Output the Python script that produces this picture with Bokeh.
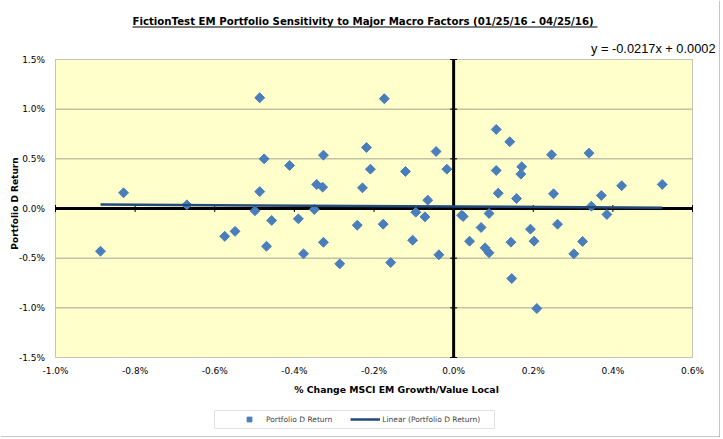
import numpy as np
from bokeh.plotting import figure
from bokeh.models import Range1d, Label, BoxAnnotation, Legend, LegendItem
from bokeh.embed import file_html
from bokeh.resources import INLINE

# ---------------- data (in percent) ----------------
x_change = [-0.887, -0.829, -0.670, -0.575, -0.549, -0.499, -0.487, -0.487, -0.476, -0.470,
            -0.457, -0.412, -0.390, -0.377, -0.350, -0.344, -0.329, -0.327, -0.327, -0.286,
            -0.242, -0.229, -0.219, -0.209, -0.177, -0.174, -0.158, -0.121, -0.103, -0.095,
            -0.072, -0.065, -0.044, -0.037, -0.017, 0.020, 0.024, 0.040, 0.069, 0.079,
            0.089, 0.089, 0.107, 0.107, 0.112, 0.141, 0.144, 0.146, 0.158, 0.169,
            0.171, 0.193, 0.202, 0.209, 0.246, 0.251, 0.261, 0.302, 0.324, 0.340,
            0.346, 0.371, 0.385, 0.422, 0.524]
d_return = [-0.430, 0.158, 0.037, -0.280, -0.230, -0.023, 0.170, 1.115, 0.500, -0.380,
            -0.120, 0.433, -0.104, -0.456, -0.010, 0.242, 0.215, 0.537, -0.340, -0.557,
            -0.168, 0.208, 0.614, 0.396, -0.158, 1.105, -0.544, 0.373, -0.319, -0.037,
            -0.084, 0.084, 0.574, -0.466, 0.396, -0.067, -0.080, -0.329, -0.191, -0.396,
            -0.446, -0.050, 0.796, 0.383, 0.154, 0.672, -0.339, -0.705, 0.100, 0.346,
            0.420, -0.208, -0.329, -1.007, 0.541, 0.148, -0.158, -0.456, -0.332, 0.557,
            0.023, 0.131, -0.060, 0.229, 0.242]
trend_slope = -0.0217
trend_intercept = 0.0002
x_ticks = [-1.0, -0.8, -0.6, -0.4, -0.2, 0.0, 0.2, 0.4, 0.6]
y_ticks = [-1.5, -1.0, -0.5, 0.0, 0.5, 1.0, 1.5]
title_text = "FictionTest EM Portfolio Sensitivity to Major Macro Factors (01/25/16 - 04/25/16)"
equation_text = "y = -0.0217x + 0.0002"
x_title = "% Change MSCI EM Growth/Value Local"
y_title = "Portfolio D Return"
series_name = "Portfolio D Return"
trend_name = "Linear (Portfolio D Return)"

# ---------------- layout (figure pixels, top-left origin) ----------------
FONT = "DejaVu Sans"
W, H = 720, 437
PL, PR, PT, PB = 55, 692, 59, 357          # plot area box

xmin, xmax = x_ticks[0], x_ticks[-1]
ymin, ymax = y_ticks[0], y_ticks[-1]
xpp = (xmax - xmin) / (PR - PL)
ypp = (ymax - ymin) / (PB - PT)

p = figure(width=W, height=H, output_backend="svg", toolbar_location=None, title=None,
           x_range=Range1d(xmin - PL * xpp, xmax + (W - PR) * xpp),
           y_range=Range1d(ymin - (H - PB) * ypp, ymax + PT * ypp),
           x_axis_location=None, y_axis_location=None,
           min_border=0, outline_line_color=None,
           background_fill_color="white", border_fill_color="white")
p.grid.visible = False


def sy(fy):
    """figure y (from top) -> screen units of the frame (from bottom)"""
    return H - fy


# plot area
p.add_layout(BoxAnnotation(left=xmin, right=xmax, bottom=ymin, top=ymax,
                           fill_color="#FFFFCC", fill_alpha=1,
                           line_color="#404040", line_width=1, level="underlay"))
# horizontal grid lines
grid_vals = [t for t in y_ticks if t not in (ymin, ymax, 0.0)]
p.segment(x0=[xmin] * len(grid_vals), x1=[xmax] * len(grid_vals), y0=grid_vals, y1=grid_vals,
          line_color="#A3A394", line_width=1)
# zero axes
p.segment(x0=[xmin], x1=[xmax], y0=[0], y1=[0], line_color="black", line_width=3)
p.segment(x0=[0], x1=[0], y0=[ymin], y1=[ymax], line_color="black", line_width=3)
p.scatter(x=x_ticks, y=[0] * len(x_ticks), marker="dash", angle=np.pi / 2, size=7,
          line_color="black", line_width=1)
p.scatter(x=[0] * len(y_ticks), y=y_ticks, marker="dash", size=7,
          line_color="black", line_width=1)

# tick labels
p.text(x=[xmin] * len(y_ticks), y=y_ticks, text=[f"{v:.1f}%" for v in y_ticks],
       x_offset=-10.5, text_align="right", text_baseline="middle",
       text_font={"value": FONT}, text_font_size="9px", text_color="black")
p.text(x=x_ticks, y=[ymin] * len(x_ticks), text=[f"{v:.1f}%" for v in x_ticks],
       y_offset=13, text_align="center", text_baseline="middle",
       text_font={"value": FONT}, text_font_size="9px", text_color="black")

# points
r_pts = p.scatter(x=x_change, y=d_return, marker="square", angle=np.pi / 4, size=7,
                  fill_color="#4A7EBB", line_color="#4A7EBB")
# trend line
xs = np.array([min(x_change), max(x_change)])
ys = trend_slope * xs + trend_intercept * 100
r_line = p.line(x=xs, y=ys, line_color="#23497A", line_width=2.5)

# legend box and legend
p.add_layout(BoxAnnotation(left=214, right=494, bottom=sy(428), top=sy(410),
                           left_units="screen", right_units="screen",
                           top_units="screen", bottom_units="screen",
                           fill_color="white", fill_alpha=1, line_color="#A0A0A0", line_width=1))
legend = Legend(items=[LegendItem(label=series_name, renderers=[r_pts]),
                       LegendItem(label=trend_name, renderers=[r_line])],
                orientation="horizontal", location=(234, sy(425)),
                border_line_color=None, background_fill_alpha=0,
                label_text_font=FONT, label_text_font_size="7.5px",
                label_standoff=2, spacing=18, padding=0, margin=0,
                glyph_width=30, glyph_height=12, label_height=12)
p.add_layout(legend)

# outer chart border (right & bottom)
p.add_layout(BoxAnnotation(left=W - 1, right=W, bottom=0, top=H,
                           left_units="screen", right_units="screen",
                           top_units="screen", bottom_units="screen",
                           fill_color="#8C8C8C", fill_alpha=1, line_color=None))
p.add_layout(BoxAnnotation(left=0, right=W, bottom=0, top=1,
                           left_units="screen", right_units="screen",
                           top_units="screen", bottom_units="screen",
                           fill_color="#8C8C8C", fill_alpha=1, line_color=None))

# texts
p.add_layout(Label(x=132, y=sy(21), x_units="screen", y_units="screen", text=title_text,
                   text_align="left", text_baseline="middle", text_font=FONT,
                   text_font_style="bold", text_font_size="10.2px", text_color="black"))
p.add_layout(BoxAnnotation(left=132, right=597, bottom=sy(27), top=sy(26),
                           left_units="screen", right_units="screen",
                           top_units="screen", bottom_units="screen",
                           fill_color="black", fill_alpha=1, line_color=None))
p.add_layout(Label(x=715, y=sy(48), x_units="screen", y_units="screen", text=equation_text,
                   text_align="right", text_baseline="middle", text_font="Liberation Sans",
                   text_font_size="12.8px", text_color="black"))
p.add_layout(Label(x=396, y=sy(389), x_units="screen", y_units="screen", text=x_title,
                   text_align="center", text_baseline="middle", text_font=FONT,
                   text_font_style="bold", text_font_size="9.3px", text_color="black"))
p.add_layout(Label(x=14.5, y=sy(203), x_units="screen", y_units="screen", text=y_title,
                   angle=np.pi / 2, text_align="center", text_baseline="middle", text_font=FONT,
                   text_font_style="bold", text_font_size="9px", text_color="black"))

open("out.html", "w").write(file_html(p, INLINE))
